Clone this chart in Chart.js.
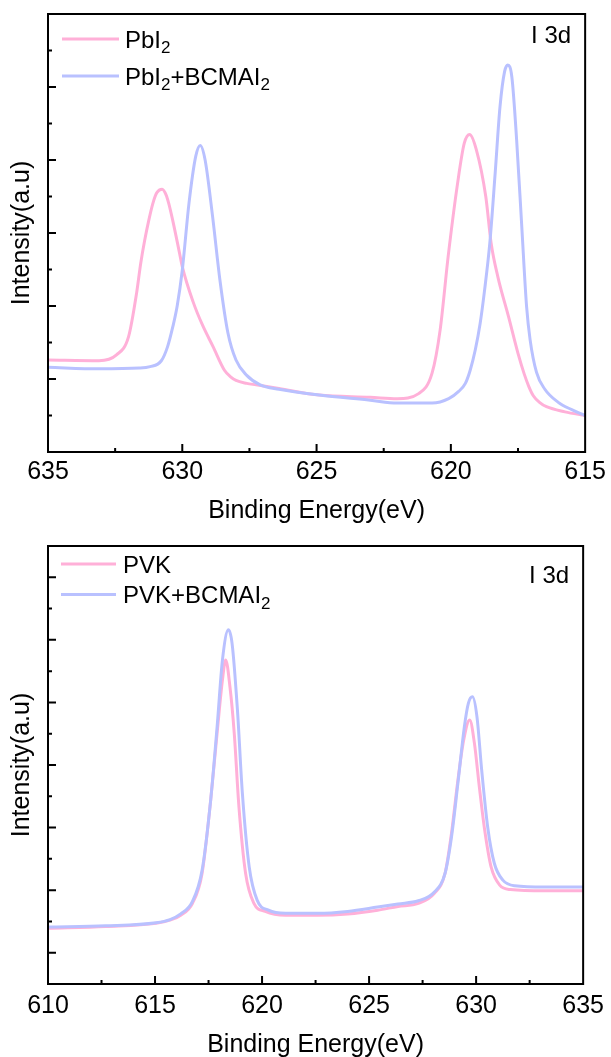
<!DOCTYPE html>
<html lang="en">
<head>
  <meta charset="UTF-8" />
  <title>I 3d XPS spectra</title>
  <script src="https://cdn.jsdelivr.net/npm/chart.js"></script>
  <style>
    html, body { margin: 0; padding: 0; background: #fff; overflow: hidden; }
    canvas { display: block; position: absolute; left: 0; }
    #top { top: 0; }
    #bottom { top: 532px; }
  </style>
</head>
<body>
  <canvas id="top" width="611" height="530"></canvas>
  <canvas id="bottom" width="611" height="530"></canvas>

  <script>
    // ---- data ----
    // top panel: PbI2 films
    const pbi2E = [635, 633.1, 632.45, 632.0, 631.7, 631.55, 631.4, 631.25, 631.1, 630.95, 630.75, 630.6, 630.5, 630.36, 630.1, 630.0, 629.6, 629.25, 628.85, 628.43, 628.2, 628.0, 627.6, 627.25, 626.4, 624.9, 623.0, 622.0, 621.2, 620.7, 620.4, 620.1, 619.75, 619.5, 619.3, 619.05, 618.7, 618.5, 618.25, 617.85, 617.5, 617.27, 617.1, 616.93, 616.7, 616.44, 615.75, 615];
    const pbi2I = [1.26, 1.25, 1.33, 1.58, 2.18, 2.58, 2.9, 3.17, 3.4, 3.55, 3.6, 3.52, 3.4, 3.18, 2.72, 2.54, 2.06, 1.74, 1.44, 1.12, 1.03, 0.98, 0.94, 0.92, 0.87, 0.78, 0.75, 0.73, 0.8, 1.08, 1.67, 2.68, 3.68, 4.23, 4.35, 4.14, 3.5, 2.86, 2.4, 1.85, 1.35, 1.07, 0.9, 0.77, 0.68, 0.62, 0.55, 0.5];

    const pbi2BcmaE = [635, 633.1, 631.6, 631.2, 630.78, 630.55, 630.35, 630.19, 630.0, 629.75, 629.5, 629.33, 629.15, 628.87, 628.6, 628.3, 628.0, 627.6, 627.1, 626.4, 624.9, 623.0, 622.0, 620.7, 620.08, 619.71, 619.46, 619.28, 619.09, 618.91, 618.75, 618.55, 618.35, 618.17, 618.0, 617.88, 617.73, 617.55, 617.36, 617.18, 617.05, 616.81, 616.5, 616.0, 615.5, 615];
    const pbi2BcmaI = [1.16, 1.14, 1.15, 1.17, 1.25, 1.44, 1.72, 2.0, 2.49, 3.41, 4.05, 4.2, 4.0, 3.22, 2.36, 1.63, 1.26, 1.05, 0.92, 0.86, 0.78, 0.71, 0.67, 0.67, 0.73, 0.83, 0.94, 1.12, 1.4, 1.76, 2.2, 2.86, 3.82, 4.73, 5.21, 5.3, 5.14, 4.27, 3.09, 1.99, 1.54, 1.09, 0.86, 0.68, 0.58, 0.5];

    // bottom panel: PVK films
    const pvkE = [610, 612.7, 615.05, 615.7, 616.2, 616.75, 617.2, 617.6, 617.9, 618.15, 618.3, 618.5, 618.7, 618.92, 619.23, 619.62, 620.15, 621.1, 622.6, 624.0, 625.4, 626.35, 627.3, 628.05, 628.55, 628.85, 629.15, 629.42, 629.7, 629.92, 630.15, 630.4, 630.7, 631.1, 631.6, 633.2, 635];
    const pvkI = [0.39, 0.42, 0.47, 0.52, 0.6, 0.79, 1.27, 2.44, 3.51, 4.36, 4.68, 4.25, 3.51, 2.33, 1.27, 0.79, 0.66, 0.6, 0.6, 0.62, 0.68, 0.74, 0.79, 0.95, 1.27, 1.91, 2.76, 3.4, 3.72, 3.35, 2.65, 1.96, 1.37, 1.08, 1.01, 0.99, 0.99];

    const pvkBcmaE = [610, 612.7, 615.05, 615.7, 616.2, 616.75, 617.2, 617.6, 617.9, 618.15, 618.43, 618.6, 618.85, 619.08, 619.4, 619.77, 620.3, 621.1, 622.6, 624.0, 625.4, 626.35, 627.3, 628.05, 628.55, 628.85, 629.15, 629.45, 629.64, 629.83, 630.04, 630.26, 630.54, 630.85, 631.25, 631.8, 633.2, 635];
    const pvkBcmaI = [0.41, 0.43, 0.48, 0.53, 0.62, 0.82, 1.32, 2.44, 3.61, 4.68, 5.16, 4.94, 3.88, 2.55, 1.37, 0.84, 0.68, 0.63, 0.63, 0.66, 0.73, 0.78, 0.83, 0.97, 1.27, 1.85, 2.71, 3.61, 3.99, 4.09, 3.77, 2.92, 2.01, 1.43, 1.16, 1.07, 1.05, 1.05];

    const topLabels = ['PbI₂', 'PbI₂+BCMAI₂'];
    const bottomLabels = ['PVK', 'PVK+BCMAI₂'];
    const pink = '#ffb0d8';
    const blue = '#b9c1ff';

    const FONT = "'Liberation Sans', Arial, Helvetica, sans-serif";
    Chart.defaults.font.family = FONT;
    Chart.defaults.color = '#000';

    function toPoints(xs, ys) {
      return xs.map((x, i) => ({ x: x, y: ys[i] }));
    }

    function isMultiple(v, step) {
      return Math.abs(v / step - Math.round(v / step)) < 1e-6;
    }

    // frame + inward ticks
    const framePlugin = {
      id: 'frame',
      afterDraw(chart) {
        const ctx = chart.ctx;
        const a = chart.chartArea;
        const xs = chart.scales.x, ys = chart.scales.y;
        ctx.save();
        ctx.strokeStyle = '#000';
        ctx.lineWidth = 2;
        ctx.beginPath();
        xs.ticks.forEach(t => {
          const px = xs.getPixelForValue(t.value);
          if (px <= a.left + 1 || px >= a.right - 1) return;
          const len = isMultiple(t.value, 5) ? 8 : 4;
          ctx.moveTo(px, a.bottom);
          ctx.lineTo(px, a.bottom - len);
        });
        ys.ticks.forEach(t => {
          const py = ys.getPixelForValue(t.value);
          if (py <= a.top + 1 || py >= a.bottom - 1) return;
          const len = isMultiple(t.value, 1) ? 8 : 4;
          ctx.moveTo(a.left, py);
          ctx.lineTo(a.left + len, py);
        });
        ctx.stroke();
        ctx.strokeRect(a.left, a.top, a.right - a.left, a.bottom - a.top);
        ctx.restore();
      }
    };

    // draws text, rendering "₂" as a lowered smaller 2
    function drawSubText(ctx, text, x, yMid, size) {
      const base = yMid + size * 0.358;
      const parts = text.split(/(₂)/);
      parts.forEach(p => {
        if (!p) return;
        if (p === '₂') {
          ctx.font = Math.round(size * 0.7) + 'px ' + FONT;
          ctx.fillText('2', x, base + size * 0.24);
          x += ctx.measureText('2').width;
        } else {
          ctx.font = size + 'px ' + FONT;
          ctx.fillText(p, x, base);
          x += ctx.measureText(p).width;
        }
      });
    }

    const insideLegend = {
      id: 'insideLegend',
      afterDraw(chart, args, o) {
        const ctx = chart.ctx;
        const a = chart.chartArea;
        ctx.save();
        ctx.textBaseline = 'alphabetic';
        ctx.textAlign = 'left';
        ctx.fillStyle = '#000';
        chart.data.datasets.forEach((ds, i) => {
          const y = a.top + o.top + i * o.gap;
          const x0 = a.left + o.left;
          ctx.strokeStyle = ds.borderColor;
          ctx.lineWidth = 3;
          ctx.beginPath();
          ctx.moveTo(x0, y);
          ctx.lineTo(x0 + o.lineLen, y);
          ctx.stroke();
          drawSubText(ctx, ds.label, x0 + o.lineLen + o.textGap, y, o.size);
        });
        ctx.font = o.size + 'px ' + FONT;
        ctx.textAlign = 'right';
        ctx.fillText(o.tag, a.right - o.tagRight, a.top + o.tagTop + o.size * 0.358);
        ctx.restore();
      }
    };

    function makeChart(id, cfg) {
      return new Chart(document.getElementById(id), {
        type: 'line',
        data: {
          datasets: [
            { label: cfg.labels[0], data: cfg.series[0], borderColor: pink, borderWidth: 3, pointRadius: 0, cubicInterpolationMode: 'monotone', order: 1 },
            { label: cfg.labels[1], data: cfg.series[1], borderColor: blue, borderWidth: 3, pointRadius: 0, cubicInterpolationMode: 'monotone', order: 0 }
          ]
        },
        options: {
          responsive: false,
          animation: false,
          devicePixelRatio: 1,
          layout: { padding: { top: 14, right: cfg.right, left: 0, bottom: 0 } },
          plugins: {
            legend: { display: false },
            tooltip: { enabled: false },
            insideLegend: cfg.legend
          },
          scales: {
            x: {
              type: 'linear',
              min: cfg.xMin, max: cfg.xMax, reverse: cfg.reverse,
              ticks: {
                stepSize: 2.5, autoSkip: false, maxRotation: 0, padding: cfg.tickPad,
                font: { size: 25 }, color: '#000',
                callback: v => (isMultiple(v, 5) ? String(v) : '')
              },
              grid: { display: false, drawTicks: false },
              border: { display: false },
              title: { display: true, text: 'Binding Energy(eV)', font: { size: 25 }, color: '#000', padding: { top: 0, bottom: cfg.titlePad } },
              afterFit(s) { s.height = 78; }
            },
            y: {
              min: cfg.yMin, max: cfg.yMax,
              ticks: { display: false, stepSize: 0.5 },
              grid: { display: false, drawTicks: false },
              border: { display: false },
              title: { display: true, text: 'Intensity(a.u)', font: { size: 25 }, color: '#000', padding: { top: 7, bottom: 0 } },
              afterFit(s) { s.width = 48; }
            }
          }
        },
        plugins: [framePlugin, insideLegend]
      });
    }

    makeChart('top', {
      labels: topLabels,
      series: [toPoints(pbi2E, pbi2I), toPoints(pbi2BcmaE, pbi2BcmaI)],
      xMin: 615, xMax: 635, reverse: true,
      yMin: 0, yMax: 6, right: 24, tickPad: 5, titlePad: 3.5,
      legend: { left: 14, top: 25, gap: 37, lineLen: 57, textGap: 6, size: 24, tag: 'I 3d', tagRight: 14, tagTop: 20.5 }
    });

    makeChart('bottom', {
      labels: bottomLabels,
      series: [toPoints(pvkE, pvkI), toPoints(pvkBcmaE, pvkBcmaI)],
      xMin: 610, xMax: 635, reverse: false,
      yMin: -0.5, yMax: 6.5, right: 25, tickPad: 7, titlePad: 1.5,
      legend: { left: 13, top: 18, gap: 30.5, lineLen: 55, textGap: 7, size: 24, tag: 'I 3d', tagRight: 14, tagTop: 28.5 }
    });
  </script>
</body>
</html>
